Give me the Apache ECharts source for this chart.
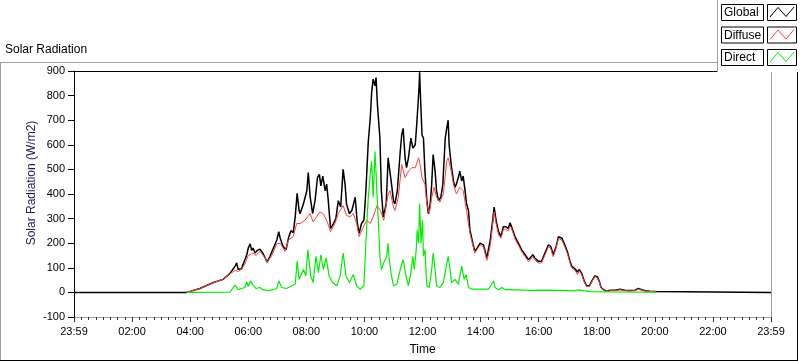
<!DOCTYPE html>
<html>
<head>
<meta charset="utf-8">
<script src="https://cdn.jsdelivr.net/npm/echarts@6/dist/echarts.min.js"></script>
<style>
html,body{margin:0;padding:0;background:#fff;}
#c{width:800px;height:361px;}
</style>
</head>
<body>
<div id="c"></div>
<script>
// x values are minutes since 00:00 (axis runs from 23:59 to 23:59)
const xTickLabels = ['23:59','02:00','04:00','06:00','08:00','10:00','12:00','14:00','16:00','18:00','20:00','22:00','23:59'];
const yTicks = [-100, 900, 100]; // min, max, interval
const seriesNames = ['Global', 'Diffuse', 'Direct'];

const globalData = [[0,0],[233,0],[260,16],[288,40],[308,53],[322,77],[333,107],[336,120],[339,94],[346,96],[353,133],[357,153],[360,180],[364,197],[365,203],[367,171],[370,180],[374,160],[379,171],[384,176],[390,160],[395,140],[399,123],[405,147],[412,180],[419,213],[423,247],[426,220],[432,187],[438,173],[443,220],[448,251],[453,243],[457,307],[461,403],[465,333],[467,320],[474,360],[481,413],[484,487],[488,387],[493,320],[498,373],[503,467],[507,480],[510,433],[514,473],[519,413],[522,440],[525,380],[530,260],[536,280],[541,300],[546,373],[551,347],[556,500],[560,440],[563,360],[569,320],[574,333],[581,387],[585,287],[589,240],[594,280],[599,293],[603,413],[608,613],[612,707],[615,813],[618,867],[622,840],[624,873],[627,760],[632,627],[635,413],[639,307],[645,360],[649,547],[653,540],[656,440],[660,373],[663,360],[668,413],[674,573],[677,640],[680,667],[684,547],[687,507],[691,547],[696,627],[700,587],[705,600],[708,680],[711,773],[713,840],[714,895],[716,787],[719,640],[722,627],[725,493],[729,373],[732,320],[736,360],[739,440],[742,560],[746,493],[749,413],[753,373],[758,387],[762,440],[767,627],[770,667],[773,700],[775,600],[780,507],[784,453],[787,427],[790,440],[794,467],[797,493],[801,453],[804,473],[808,413],[811,360],[815,333],[818,253],[824,200],[828,167],[833,180],[839,200],[846,193],[853,140],[860,213],[865,293],[868,347],[872,293],[877,247],[882,227],[887,267],[892,267],[897,260],[901,283],[904,267],[911,227],[918,200],[925,173],[932,153],[939,133],[942,140],[948,153],[952,140],[959,127],[966,127],[973,160],[980,193],[985,187],[990,153],[996,187],[1001,227],[1008,220],[1014,193],[1019,167],[1025,125],[1028,107],[1035,96],[1040,83],[1044,93],[1049,77],[1054,47],[1059,27],[1065,27],[1070,47],[1076,67],[1081,64],[1085,47],[1089,20],[1094,11],[1101,4],[1107,9],[1118,9],[1128,13],[1138,9],[1149,8],[1159,9],[1166,16],[1173,11],[1180,7],[1190,5],[1202,4],[1204,0],[1440,0]];

const diffuseData = [[233,0],[260,16],[288,40],[308,53],[322,75],[333,90],[339,85],[346,94],[353,115],[357,115],[360,150],[364,147],[370,160],[376,150],[384,167],[395,140],[399,123],[408,147],[419,197],[426,200],[436,167],[443,213],[453,227],[460,280],[467,280],[477,293],[488,320],[494,287],[501,307],[508,327],[515,320],[522,293],[530,247],[539,280],[546,320],[556,353],[563,313],[570,307],[577,320],[584,280],[589,227],[598,267],[605,293],[612,280],[618,307],[626,353],[633,333],[640,293],[649,400],[653,413],[660,347],[663,333],[670,387],[677,520],[684,467],[691,493],[698,507],[705,507],[712,547],[715,520],[719,467],[722,453],[725,440],[729,360],[734,320],[739,387],[744,427],[749,387],[756,367],[763,400],[770,533],[773,547],[778,507],[784,440],[790,400],[797,427],[804,413],[811,333],[818,240],[828,160],[839,193],[846,185],[853,130],[860,190],[868,327],[872,280],[877,235],[882,220],[887,255],[892,257],[897,250],[901,270],[904,260],[911,218],[918,192],[925,165],[932,145],[939,125],[942,132],[948,145],[952,133],[959,119],[966,120],[973,152],[980,185],[985,178],[990,145],[996,180],[1001,220],[1008,212],[1014,185],[1019,160],[1025,118],[1028,100],[1035,90],[1040,73],[1044,88],[1049,72],[1054,43],[1059,24],[1065,24],[1070,44],[1076,64],[1081,60],[1085,44],[1089,18],[1094,9],[1101,3],[1107,7],[1118,7],[1128,11],[1138,7],[1149,6],[1159,7],[1166,14],[1173,9],[1180,5],[1190,4],[1202,3]];

const directData = [[233,0],[322,1],[326,7],[333,30],[339,11],[353,20],[357,43],[360,24],[365,47],[370,30],[376,16],[384,20],[391,10],[405,7],[419,16],[423,47],[429,20],[439,16],[450,27],[457,33],[461,127],[465,53],[467,53],[474,93],[479,67],[483,173],[489,67],[494,40],[500,147],[505,80],[510,153],[515,93],[521,140],[527,67],[534,40],[543,27],[550,67],[556,160],[562,67],[569,40],[577,73],[584,27],[591,13],[599,27],[603,200],[608,387],[612,480],[615,533],[618,387],[622,573],[625,440],[629,280],[632,147],[635,93],[640,120],[646,147],[649,200],[651,140],[654,93],[656,67],[660,27],[667,33],[674,93],[680,133],[682,140],[686,67],[691,27],[696,80],[700,147],[703,93],[707,173],[709,253],[712,200],[714,360],[717,200],[720,293],[722,147],[725,173],[729,27],[734,20],[739,93],[742,160],[746,93],[749,27],[756,20],[763,40],[768,93],[773,147],[777,93],[780,40],[787,53],[794,33],[801,107],[806,53],[810,73],[815,20],[822,13],[839,13],[856,13],[860,24],[864,20],[867,47],[870,20],[877,11],[884,20],[891,11],[911,10],[942,8],[973,9],[1004,8],[1035,6],[1042,10],[1045,4],[1066,3],[1107,2],[1202,1]];

const colors = ['#000000', '#ff4040', '#00ee00'];
const FONT = 'Liberation Sans, Arial, sans-serif';

const chart = echarts.init(document.getElementById('c'), null, {renderer: 'canvas'});

function legendItem(i) {
  const y0 = 4.5 + 22.5 * i;
  const sx = 767.5;
  return [
    {type: 'rect', shape: {x: 721.5, y: y0, width: 42, height: 16}, style: {fill: '#fff', stroke: '#000', lineWidth: 1}, z: 101},
    {type: 'text', style: {x: 724, y: y0 + 8.5, text: seriesNames[i], font: '12px ' + FONT, fill: '#000', textVerticalAlign: 'middle'}, z: 102},
    {type: 'rect', shape: {x: sx, y: y0, width: 29, height: 16}, style: {fill: '#fff', stroke: '#000', lineWidth: 1}, z: 101},
    {type: 'polyline', shape: {points: [[sx + 2.5, y0 + 12.5], [sx + 10.5, y0 + 3], [sx + 18.5, y0 + 12], [sx + 26.5, y0 + 2.5]]}, style: {stroke: colors[i], lineWidth: 1, fill: null}, z: 102}
  ];
}

const option = {
  animation: false,
  backgroundColor: '#ffffff',
  grid: {left: 74, right: 29, top: 71, bottom: 39, containLabel: false},
  xAxis: [{
    type: 'value', min: 0, max: 1440, interval: 120,
    name: 'Time', nameLocation: 'middle', nameGap: 27,
    nameTextStyle: {color: '#000', fontSize: 12, fontFamily: FONT},
    axisLine: {show: true, onZero: false, lineStyle: {color: '#a0a0a0', width: 1}},
    axisTick: {show: true, length: 5, lineStyle: {color: '#333'}},
    minorTick: {show: true, splitNumber: 8, length: 3, lineStyle: {color: '#333'}},
    splitLine: {show: false},
    axisLabel: {
      color: '#000', fontSize: 11, fontFamily: FONT, margin: 9,
      formatter: function (v) { return xTickLabels[Math.round(v / 120)]; }
    }
  }, {
    type: 'value', min: 0, max: 1440, position: 'top',
    axisLine: {show: true, onZero: false, lineStyle: {color: '#000', width: 1}},
    axisTick: {show: false}, axisLabel: {show: false}, splitLine: {show: false}
  }],
  yAxis: [{
    type: 'value', min: yTicks[0], max: yTicks[1], interval: yTicks[2],
    axisLine: {show: true, onZero: false, lineStyle: {color: '#000', width: 1}},
    axisTick: {show: true, length: 6, lineStyle: {color: '#000'}},
    splitLine: {show: false},
    axisLabel: {color: '#000', fontSize: 11, fontFamily: FONT, margin: 9}
  }, {
    type: 'value', min: yTicks[0], max: yTicks[1], position: 'right',
    axisLine: {show: true, onZero: false, lineStyle: {color: '#a0a0a0', width: 1}},
    axisTick: {show: false}, axisLabel: {show: false}, splitLine: {show: false}
  }],
  series: [
    {name: seriesNames[0], type: 'line', data: globalData, showSymbol: false, symbol: 'none', lineStyle: {color: colors[0], width: 1.5}, z: 2},
    {name: seriesNames[1], type: 'line', data: diffuseData, showSymbol: false, symbol: 'none', lineStyle: {color: colors[1], width: 1}, z: 3},
    {name: seriesNames[2], type: 'line', data: directData, showSymbol: false, symbol: 'none', lineStyle: {color: colors[2], width: 1.2}, z: 4}
  ],
  graphic: [
    {type: 'text', style: {x: 5, y: 50, text: 'Solar Radiation', font: '12px ' + FONT, fill: '#000', textVerticalAlign: 'middle'}},
    {type: 'text', rotation: Math.PI / 2, x: 32, y: 183, style: {x: 0, y: 0, text: 'Solar Radiation (W/m2)', font: '12px ' + FONT, fill: '#1c1c5a', textAlign: 'center', textVerticalAlign: 'middle'}},
    {type: 'line', shape: {x1: 0, y1: 62.5, x2: 717, y2: 62.5}, style: {stroke: '#a0a0a0', lineWidth: 1}},
    {type: 'line', shape: {x1: 0.5, y1: 62, x2: 0.5, y2: 361}, style: {stroke: '#a0a0a0', lineWidth: 1}},
    {type: 'line', shape: {x1: 0, y1: 360.5, x2: 798, y2: 360.5}, style: {stroke: '#000', lineWidth: 1}},
    {type: 'line', shape: {x1: 797.5, y1: 72, x2: 797.5, y2: 361}, style: {stroke: '#000', lineWidth: 1}},
    {type: 'rect', shape: {x: 717, y: 0, width: 83, height: 72}, style: {fill: '#fff', stroke: null}, z: 100},
    {type: 'line', shape: {x1: 717.5, y1: 0, x2: 717.5, y2: 72}, style: {stroke: '#a0a0a0', lineWidth: 1}, z: 101}
  ].concat(legendItem(0), legendItem(1), legendItem(2))
};

chart.setOption(option);
</script>
</body>
</html>
